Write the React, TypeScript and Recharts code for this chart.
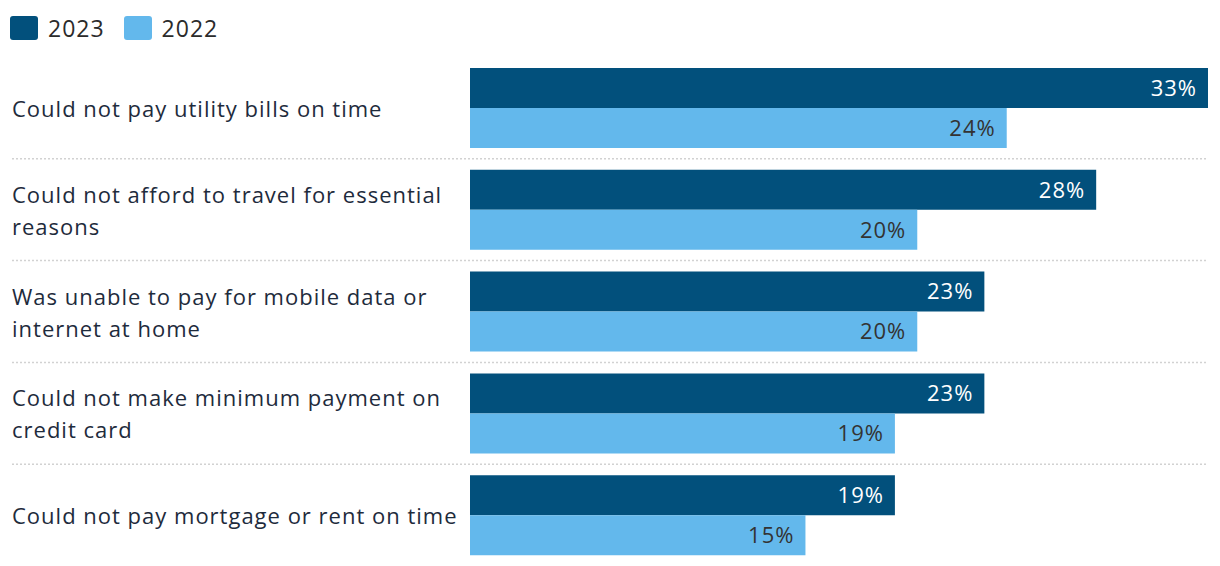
import { BarChart, Bar, XAxis, YAxis, LabelList } from 'recharts';

const categories = [
  'Could not pay utility bills on time',
  'Could not afford to travel for essential\nreasons',
  'Was unable to pay for mobile data or\ninternet at home',
  'Could not make minimum payment on\ncredit card',
  'Could not pay mortgage or rent on time',
];
const values2023 = [33, 28, 23, 23, 19];
const values2022 = [24, 20, 20, 19, 15];
const seriesNames = ['2023', '2022'];

const DARK = '#02507c';
const LIGHT = '#63b8ec';
const FONT = '"Open Sans", sans-serif';

const W = 1220;
const H = 566;
const TOP = 57;
const BAND = (H - TOP) / categories.length;

const data = categories.map((label, i) => ({
  label,
  y2023: values2023[i],
  y2022: values2022[i],
}));

const CategoryTick = (props: any) => {
  const { y, payload, index } = props;
  const lines = String(payload.value).split('\n');
  const lh = 32;
  const y0 = y - ((lines.length - 1) * lh) / 2;
  return (
    <g>
      {index > 0 && (
        <line x1={12} x2={W - 12} y1={y - BAND / 2} y2={y - BAND / 2} stroke="#d2d2d2" strokeWidth={1.5} strokeDasharray="2 2" />
      )}
      <text x={12} y={y0} fill="#1e2b3c" fontSize={22} letterSpacing={1} fontFamily={FONT} dominantBaseline="central">
        {lines.map((l, i) => (
          <tspan key={i} x={12} y={y0 + i * lh}>{l}</tspan>
        ))}
      </text>
    </g>
  );
};

export default function App() {
  return (
    <div style={{ position: 'absolute', left: 0, top: 0, width: W, height: H, background: '#fff' }}>
      <div style={{ position: 'absolute', left: 10, top: 12, display: 'flex', alignItems: 'center', fontFamily: FONT, fontSize: 23, letterSpacing: 1, color: '#2b2b2b' }}>
        {seriesNames.map((name, i) => (
          <div key={name} style={{ display: 'flex', alignItems: 'center', marginRight: 19 }}>
            <span style={{ display: 'inline-block', width: 28, height: 24, borderRadius: 3, background: i === 0 ? DARK : LIGHT, marginRight: 10 }} />
            <span>{name}</span>
          </div>
        ))}
      </div>
      <BarChart
        width={W}
        height={H}
        data={data}
        layout="vertical"
        margin={{ top: TOP, right: 12, bottom: 0, left: 0 }}
        barCategoryGap={11}
        barGap={0}
      >
        <XAxis type="number" domain={[0, 33]} hide />
        <YAxis type="category" dataKey="label" width={470} axisLine={false} tickLine={false} tick={<CategoryTick />} interval={0} />
        <Bar dataKey="y2023" fill={DARK} barSize={40} isAnimationActive={false}>
          <LabelList dataKey="y2023" position="insideRight" offset={11} fill="#fff" fontSize={22} letterSpacing={1} fontFamily={FONT} formatter={(v: any) => `${v}%`} />
        </Bar>
        <Bar dataKey="y2022" fill={LIGHT} barSize={40} isAnimationActive={false}>
          <LabelList dataKey="y2022" position="insideRight" offset={11} fill="#333" fontSize={22} letterSpacing={1} fontFamily={FONT} formatter={(v: any) => `${v}%`} />
        </Bar>
      </BarChart>
    </div>
  );
}
